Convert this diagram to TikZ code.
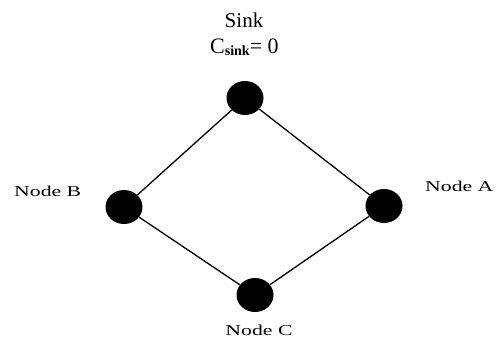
\documentclass[tikz,border=0pt]{standalone}
\usepackage{graphicx}
\usepackage{fontspec}
\setmainfont{Liberation Serif}
\usetikzlibrary{shapes.geometric}
\tikzset{
  dot/.style={ellipse, fill=black, draw=none, inner sep=0pt,
              minimum width=37pt, minimum height=34pt},
  link/.style={draw=black, line width=1.3pt},
  lbl/.style={inner sep=0pt, font=\fontsize{15}{18}\selectfont},
}
\newcommand{\wide}[1]{\scalebox{1.45}[1]{#1}}
\begin{document}
\begin{tikzpicture}[x=1pt,y=-1pt]
  \useasboundingbox (0,0) rectangle (499,338);
  % vertices of the diamond
  \node[dot] (sink) at (245,98) {};
  \node[dot] (b) at (124,207) {};
  \node[dot] (a) at (384,206) {};
  \node[dot] (c) at (255,295) {};
  % edges
  \draw[link] (sink) -- (b);
  \draw[link] (sink) -- (a);
  \draw[link] (b) -- (c);
  \draw[link] (a) -- (c);
  % labels
  \node[inner sep=0pt, anchor=base, font=\fontsize{21}{24}\selectfont] (tsink) at (244,27) {Sink};
  \node[inner sep=0pt, anchor=base west, font=\fontsize{22}{24}\selectfont] (tcost) at (210,53)
    {C\raisebox{-2pt}{\fontsize{14}{14}\selectfont\bfseries sink}= 0};
  \node[lbl, anchor=base west] (tb) at (14,196) {\wide{Node B}};
  \node[lbl, anchor=base west] (ta) at (425,191) {\wide{Node A}};
  \node[lbl, anchor=base] (tc) at (259,335) {\wide{Node C}};
\end{tikzpicture}
\end{document}
